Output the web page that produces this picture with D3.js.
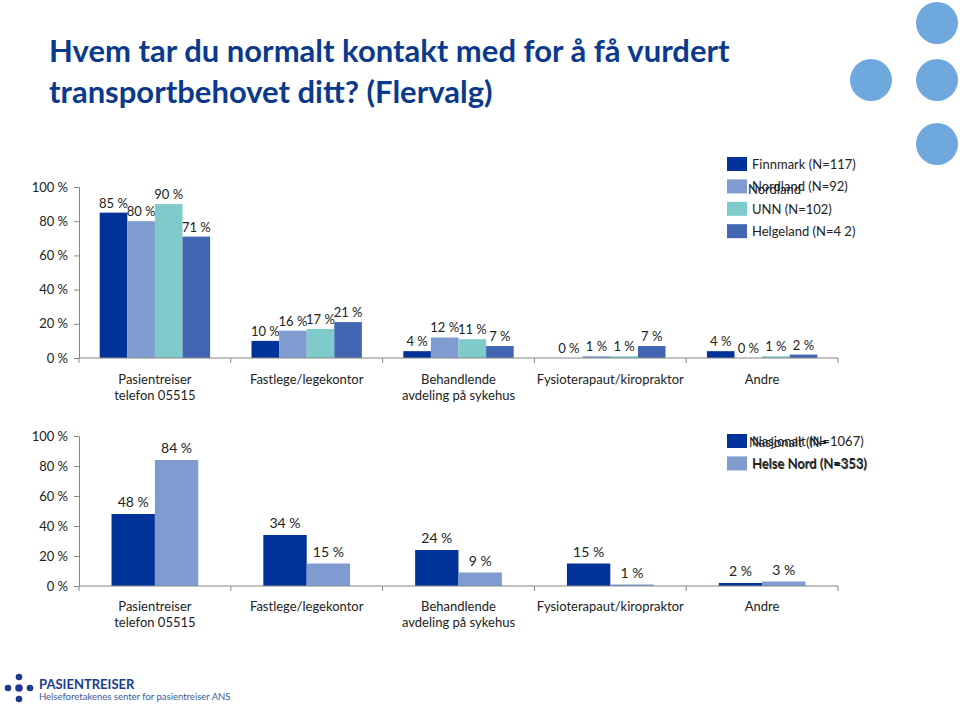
<!DOCTYPE html>
<html>
<head>
<meta charset="utf-8">
<script src="https://cdn.jsdelivr.net/npm/d3@7"></script>
<style>
  body { margin: 0; background: #fff; }
  svg { font-family: Lato, "Open Sans", sans-serif; }
</style>
</head>
<body>
<div id="chart-area"></div>
<script>
// Hvem tar du normalt kontakt med ... (Flervalg)
const WIDTH = 960, HEIGHT = 712
const AXIS_LEFT = 79, AXIS_RIGHT = 838

const categories = [["Pasientreiser", "telefon 05515"], ["Fastlege/legekontor"], ["Behandlende", "avdeling på sykehus"], ["Fysioterapaut/kiropraktor"], ["Andre"]]
const catKeys = categories.map(c => c.join(" "))
const yTicks = [0, 20, 40, 60, 80, 100]

// top chart: regions
const regionNames = ["Finnmark (N=117)", "Nordland (N=92)", "UNN (N=102)", "Helgeland (N=4 2)"]
const regionColors = ["#00339a", "#7f9bcf", "#7fcaca", "#4266b2"]
const finnmark = [85, 10, 4, 0, 4]
const nordland = [80, 16, 12, 1, 0]
const unn = [90, 17, 11, 1, 1]
const helgeland = [71, 21, 7, 7, 2]

// bottom chart: national vs Helse Nord
const natNames = ["Nasjonalt (N=1067)", "Helse Nord (N=353)"]
const natColors = ["#00339a", "#7f9bcf"]
const nasjonalt = [48, 34, 24, 15, 2]
const helseNord = [84, 15, 9, 1, 3]

const svg = d3.select("#chart-area").append("svg")
    .attr("width", WIDTH).attr("height", HEIGHT)

// title
const title = svg.append("text").attr("fill", "#0b3a8c").attr("font-size", 31).attr("font-weight", "bold")
title.append("tspan").attr("x", 49).attr("y", 62).text("Hvem tar du normalt kontakt med for å få vurdert")
title.append("tspan").attr("x", 49).attr("y", 103).text("transportbehovet ditt? (Flervalg)")

// decorative circles
const dots = [[937, 23], [871, 80], [937, 80], [937, 144]]
svg.selectAll("circle.deco").data(dots).enter().append("circle")
    .attr("class", "deco").attr("cx", d => d[0]).attr("cy", d => d[1]).attr("r", 21).attr("fill", "#6fa8dc")

function drawChart(top, bottom, seriesVals, names, colors, labelSize, labelOffset, catY) {
    const x0 = d3.scaleBand().domain(catKeys).range([AXIS_LEFT, AXIS_RIGHT])
    const x1 = d3.scaleBand().domain(d3.range(seriesVals.length)).range([0, x0.bandwidth()]).paddingOuter(0.75)
    const y = d3.scaleLinear().domain([0, 100]).range([bottom, top])
    const g = svg.append("g")

    // y axis
    const ya = g.append("g").attr("transform", `translate(${AXIS_LEFT},0)`)
        .call(d3.axisLeft(y).tickValues(yTicks).tickSize(5).tickPadding(6).tickFormat(d => d + " %"))
    ya.select(".domain").attr("stroke", "#868686")
    ya.selectAll(".tick line").attr("stroke", "#868686")
    ya.selectAll(".tick text").attr("font-size", 13).attr("fill", "#222").attr("font-family", "Lato, sans-serif")

    // bars
    seriesVals.forEach((vals, si) => {
        g.selectAll(null).data(vals).enter().append("rect")
            .attr("x", (d, i) => x0(catKeys[i]) + x1(si))
            .attr("width", x1.bandwidth())
            .attr("y", d => y(d))
            .attr("height", d => bottom - y(d))
            .attr("fill", colors[si])
        g.selectAll(null).data(vals).enter().append("text")
            .attr("x", (d, i) => x0(catKeys[i]) + x1(si) + x1.bandwidth() / 2)
            .attr("y", d => y(d) - labelOffset)
            .attr("text-anchor", "middle").attr("font-size", labelSize).attr("fill", "#222")
            .text(d => d + " %")
    })

    // x axis with category boundary ticks
    g.append("line").attr("x1", AXIS_LEFT).attr("x2", AXIS_RIGHT).attr("y1", bottom).attr("y2", bottom).attr("stroke", "#868686")
    const bounds = catKeys.map(k => x0(k)).concat([AXIS_RIGHT])
    g.selectAll(null).data(bounds).enter().append("line")
        .attr("x1", d => d).attr("x2", d => d).attr("y1", bottom).attr("y2", bottom + 5).attr("stroke", "#868686")

    categories.forEach((lines, i) => {
        const t = g.append("text").attr("text-anchor", "middle").attr("font-size", 13).attr("fill", "#222")
        lines.forEach((l, j) => t.append("tspan").attr("x", x0(catKeys[i]) + x0.bandwidth() / 2).attr("y", catY + j * 16).text(l))
    })

    // legend
    const lg = g.append("g")
    names.forEach((n, i) => {
        const ly = (seriesVals.length === 4 ? 157 : 434) + i * 22.4
        lg.append("rect").attr("x", 727).attr("y", ly).attr("width", 20).attr("height", 14).attr("fill", colors[i])
        lg.append("text").attr("x", 752).attr("y", ly + 12).attr("font-size", 13).attr("fill", "#222").text(n)
    })
    return { g, lg }
}

const topChart = drawChart(187, 358, [finnmark, nordland, unn, helgeland], regionNames, regionColors, 13, 5, 384)
const botChart = drawChart(436, 586, [nasjonalt, helseNord], natNames, natColors, 14, 7, 611)

// overprinted legend texts as in the original slide
topChart.lg.append("text").attr("x", 748).attr("y", 194).attr("font-size", 13).attr("fill", "#222").text("Nordland")
botChart.lg.append("text").attr("x", 749).attr("y", 447).attr("font-size", 13).attr("fill", "#222").text("Nasjonalt (N=")
botChart.lg.append("text").attr("x", 752.6).attr("y", 468.8).attr("font-size", 13).attr("fill", "#222").text("Helse Nord (N=353)")

// logo
const logo = svg.append("g").attr("fill", "#1b3c8c")
const logoDots = [[19, 677, 3.3], [8, 688, 3.3], [19, 688, 3.8], [30, 688, 3.3], [19, 699, 3.3]]
logo.selectAll("circle").data(logoDots).enter().append("circle")
    .attr("cx", d => d[0]).attr("cy", d => d[1]).attr("r", d => d[2])
logo.append("text").attr("x", 39).attr("y", 689).attr("font-size", 13).attr("font-weight", "bold").text("PASIENTREISER")
logo.append("text").attr("x", 39).attr("y", 700).attr("font-size", 9.5).attr("fill", "#3b5a9c").text("Helseforetakenes senter for pasientreiser ANS")
</script>
</body>
</html>
